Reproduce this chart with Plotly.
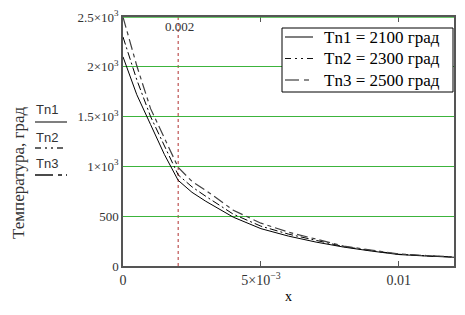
import plotly.graph_objects as go

# ---- data ----
x_vals = [0, 0.0005, 0.001, 0.0015, 0.002, 0.0025, 0.003, 0.004, 0.005,
          0.006, 0.007, 0.008, 0.009, 0.010, 0.011, 0.012]
tn1 = [2100, 1720, 1420, 1120, 860, 740, 650, 490, 375, 300, 240, 190, 150, 115, 100, 88]
tn2 = [2300, 1870, 1500, 1200, 915, 795, 700, 520, 400, 320, 255, 195, 155, 118, 102, 90]
tn3 = [2500, 2010, 1580, 1280, 990, 850, 760, 560, 430, 340, 270, 200, 160, 120, 105, 92]
names = ["Tn1 = 2100 град", "Tn2 = 2300 град", "Tn3 = 2500 град"]
short_names = ["Tn1", "Tn2", "Tn3"]
marker_x = 0.002
y_tickvals = [0, 500, 1000, 1500, 2000, 2500]
y_ticktext = ["0", "500", "1×10<sup>3</sup>", "1.5×10<sup>3</sup>", "2×10<sup>3</sup>", "2.5×10<sup>3</sup>"]
x_tickvals = [0, 0.005, 0.01]
x_ticktext = ["0", "5×10<sup>−3</sup>", "0.01"]

# page has an 8px body margin: figure occupies screen 8..465
OFF = 8
W, H = 465 - OFF, 315 - OFF
# plot area on screen: x 123..454, y 17..266
SL, SR, ST, SB = 123, 454, 17, 266
L, T = SL - OFF, ST - OFF
R, B = W - (SR - OFF), H - (SB - OFF)
PW, PH = SR - SL, SB - ST


def px_x(p):
    return (p - SL) / PW


def px_y(p):
    return (SB - p) / PH


serif = "Liberation Serif"
sans = "Liberation Sans"

styles = [dict(color="black", width=1),
          dict(color="black", width=1, dash="8px,3px,2px,3px"),
          dict(color="#404040", width=1.2, dash="11px,4px,4px,4px")]
legend_styles = [dict(color="#555555", width=1.5),
                 dict(color="#111111", width=1.2, dash="6px,4px,2px,4px,2px,4px"),
                 dict(color="#666666", width=1.5, dash="14px,5px,5px,4px")]
stack_styles = [dict(color="#555555", width=1.5),
                dict(color="#333333", width=1.5, dash="6px,4px,2px,4px,2px,4px"),
                dict(color="#111111", width=1.5, dash="18px,5px,4px,4px")]

fig = go.Figure()
for ys, nm, st in zip([tn1, tn2, tn3], names, styles):
    fig.add_trace(go.Scatter(x=x_vals, y=ys, mode="lines", name=nm, line=st,
                             showlegend=False))

fig.update_layout(
    width=W, height=H,
    margin=dict(l=L, r=R, t=T, b=B, pad=0, autoexpand=False),
    paper_bgcolor="white", plot_bgcolor="white",
    showlegend=False,
    font=dict(family=serif, color="black"),
)
fig.update_xaxes(range=[0, 0.012], tickvals=x_tickvals, ticktext=x_ticktext,
                 showgrid=False, zeroline=False, showline=True, linecolor="#555555",
                 linewidth=1.5, mirror="ticks", ticks="inside", ticklen=5,
                 tickcolor="#555555", tickfont=dict(family=serif, size=14, color="#333333"),
                 automargin=False,
                 title=dict(text="x", font=dict(family=serif, size=14), standoff=5))
fig.update_yaxes(range=[0, 2500], tickvals=y_tickvals, ticktext=y_ticktext,
                 showgrid=True, gridcolor="#3cb43c", gridwidth=1, zeroline=False,
                 showline=True, linecolor="#555555", linewidth=1.5, mirror=True,
                 automargin=False,
                 ticks="", tickfont=dict(family=serif, size=13, color="#333333"))

# top green gridline over the mirrored frame
fig.add_shape(type="line", xref="paper", yref="y", x0=0, x1=1, y0=2500, y1=2500,
              line=dict(color="#3cb43c", width=1.5), layer="above")
# red marker line
fig.add_shape(type="line", xref="x", yref="y", x0=marker_x, x1=marker_x, y0=0, y1=2500,
              line=dict(color="#b03030", width=1, dash="dot"), layer="below")
fig.add_annotation(x=marker_x, y=2500, xref="x", yref="y", text="0.002", showarrow=False,
                   xanchor="center", yanchor="top", yshift=0, xshift=1,
                   font=dict(family=serif, size=13, color="#333333"))

# legend box (drawn manually)
fig.add_shape(type="rect", xref="paper", yref="paper", x0=px_x(282), x1=px_x(453),
              y0=px_y(92), y1=px_y(28), fillcolor="white",
              line=dict(color="black", width=1), layer="above")
for i, (nm, st) in enumerate(zip(names, legend_styles)):
    yy = 37 + 21.5 * i
    fig.add_shape(type="line", xref="paper", yref="paper", x0=px_x(285), x1=px_x(313),
                  y0=px_y(yy), y1=px_y(yy), line=st, layer="above")
    fig.add_annotation(x=px_x(322), y=px_y(yy), xref="paper", yref="paper", text=nm,
                       showarrow=False, xanchor="left", yanchor="middle",
                       font=dict(family=serif, size=17, color="black"))

# y-axis title
fig.add_annotation(x=px_x(18), y=px_y(172), xref="paper", yref="paper",
                   text="Температура, град", textangle=-90, showarrow=False,
                   xanchor="center", yanchor="middle",
                   font=dict(family=serif, size=17, color="#333333"))

# left key stack
stack_pos = [(109, 122), (137, 148), (163, 175)]
for lbl, (ty, ly), st in zip(short_names, stack_pos, stack_styles):
    fig.add_annotation(x=px_x(47), y=px_y(ty), xref="paper", yref="paper", text=lbl,
                       showarrow=False, xanchor="center", yanchor="middle",
                       font=dict(family=sans, size=13, color="#333333"))
    fig.add_shape(type="line", xref="paper", yref="paper", x0=px_x(35), x1=px_x(67),
                  y0=px_y(ly), y1=px_y(ly), line=st)

fig.write_html("out.html")
